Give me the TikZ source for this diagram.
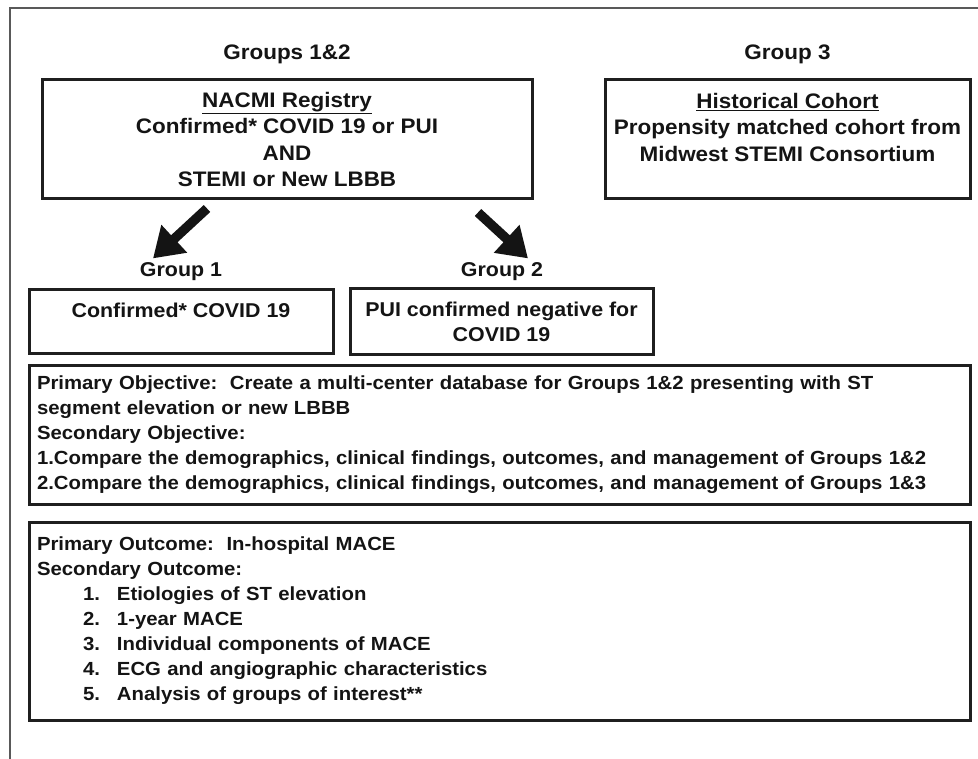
\documentclass[tikz,border=0pt]{standalone}
\usepackage{fontspec}
\setmainfont[FakeStretch=1.07]{Liberation Sans}
\usetikzlibrary{arrows.meta,positioning}
\tikzset{every node/.style={text=black!92,font=\bfseries\fontsize{20}{25}\selectfont}}
\tikzset{big/.style={font=\bfseries\fontsize{21}{26.5}\selectfont}}
\tikzset{box/.style={draw=black!88,line width=3pt,inner sep=0pt}}
\tikzset{note/.style={font=\bfseries\fontsize{19}{25}\selectfont,align=left,inner xsep=8pt,inner ysep=0pt}}
\tikzset{fat arrow/.style={black!92,line width=9.5pt,-{Triangle[width=36pt,length=29pt]}}}
\newcommand{\outitem}[1]{\hspace*{46pt}\makebox[34pt][l]{#1.}}

\begin{document}
\begin{tikzpicture}[x=1pt,y=-1pt]
  \useasboundingbox (0,0) rectangle (978,759);
  % cropped outer frame
  \draw[black!65,line width=1.2pt] (978,8) -- (10,8) -- (10,759);

  \node[big] (t12) at (287,54) {Groups 1\&2};
  \node[big] (t3)  at (787.5,54) {Group 3};

  \node[box,big,minimum width=490,minimum height=119,align=center] (reg) at (287,139.5)
    {\underline{NACMI Registry}\\Confirmed* COVID 19 or PUI\\AND\\STEMI or New LBBB};
  \node[box,minimum width=365,minimum height=119] (hist) at (787.5,139.5) {};
  \node[big,align=center,anchor=north,below=11pt of hist.north] (histtxt)
    {\underline{Historical Cohort}\\Propensity matched cohort from\\Midwest STEMI Consortium};

  \node (g1) at (181,272) {Group 1};
  \node (g2) at (502,272) {Group 2};
  \draw[fat arrow] ([shift={(-80,8)}]reg.south) -- ([shift={(-28,-1)}]g1.north);
  \draw[fat arrow] ([shift={(191,12)}]reg.south) -- ([shift={(26,-1)}]g2.north);

  \node[box,minimum width=304,minimum height=64] (c1) at (181,322) {};
  \node[anchor=north,below=11pt of c1.north] (c1txt) {Confirmed* COVID 19};
  \node[box,minimum width=303,minimum height=66,align=center] (c2) at (501.5,322)
    {PUI confirmed negative for\\COVID 19};

  \node[box,note,minimum width=941,minimum height=138,text width=925pt] (obj) at (499.5,435)
    {Primary Objective:\ \ Create a multi-center database for Groups 1\&2 presenting with ST\\
     segment elevation or new LBBB\\
     Secondary Objective:\\
     1.Compare the demographics, clinical findings, outcomes, and management of Groups 1\&2\\
     2.Compare the demographics, clinical findings, outcomes, and management of Groups 1\&3};

  \node[box,note,minimum width=941,minimum height=198,text width=925pt] (out) at (499.5,621)
    {Primary Outcome:\ \ In-hospital MACE\\
     Secondary Outcome:\\
     \outitem{1}Etiologies of ST elevation\\
     \outitem{2}1-year MACE\\
     \outitem{3}Individual components of MACE\\
     \outitem{4}ECG and angiographic characteristics\\
     \outitem{5}Analysis of groups of interest**};
\end{tikzpicture}
\end{document}
